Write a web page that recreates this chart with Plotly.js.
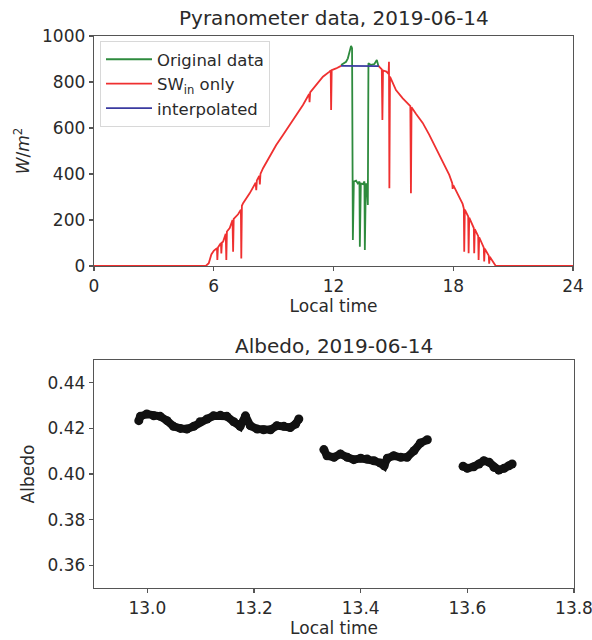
<!DOCTYPE html>
<html>
<head>
<meta charset="utf-8">
<script src="https://cdn.plot.ly/plotly-3.0.1.min.js"></script>
<style>html,body{margin:0;padding:0;background:#fff;overflow:hidden;}#chart{width:620px;height:640px;}</style>
</head>
<body>
<div id="chart"></div>
<script>
// ---- Pyranometer data (local time in hours, W/m^2) ----
const originalHours = [12.38, 12.63, 12.72, 12.8, 12.88, 12.93, 12.97, 13.02, 13.13, 13.22, 13.3, 13.32, 13.37, 13.47, 13.55, 13.57, 13.62, 13.68, 13.72, 13.75, 13.88, 14.05, 14.17, 14.25];
const originalWm2  = [874, 888, 903, 925, 957, 947, 113, 367, 371, 359, 367, 84, 359, 356, 367, 70, 359, 345, 265, 881, 874, 878, 896, 870];

const swinHours = [0, 3, 5.6, 5.75, 5.88, 6.0, 6.13, 6.16, 6.18, 6.21, 6.3, 6.36, 6.38, 6.41, 6.47, 6.6, 6.63, 6.66, 6.8, 6.94, 6.97, 7.0, 7.22, 7.36, 7.38, 7.41, 7.47, 7.6, 7.8, 8.1, 8.13, 8.16, 8.28, 8.31, 8.34, 8.47, 8.8, 9.13, 9.47, 9.8, 10.13, 10.47, 10.78, 10.8, 10.83, 11.13, 11.47, 11.8, 11.86, 11.88, 11.91, 12.13, 12.38, null, 14.25, 14.42, 14.45, 14.48, 14.65, 14.76, 14.78, 14.8, 14.83, 15.13, 15.47, 15.85, 15.88, 15.91, 16.13, 16.47, 16.8, 17.13, 17.47, 17.8, 17.95, 17.97, 18.0, 18.13, 18.47, 18.53, 18.55, 18.58, 18.75, 18.77, 18.8, 19.03, 19.05, 19.08, 19.25, 19.27, 19.3, 19.53, 19.55, 19.58, 19.78, 19.8, 19.83, 20.13, 24];
const swinWm2  = [0, 0, 0, 12, 50, 66, 77, 78, 26, 80, 92, 100, 55, 102, 106, 140, 26, 150, 165, 200, 62, 205, 225, 245, 33, 262, 273, 290, 316, 362, 330, 372, 392, 355, 400, 425, 475, 526, 570, 613, 657, 700, 748, 712, 755, 787, 823, 845, 850, 678, 852, 859, 870, null, 870, 855, 635, 850, 845, 835, 888, 338, 823, 765, 729, 695, 316, 690, 662, 622, 570, 512, 454, 396, 360, 335, 352, 330, 270, 250, 62, 245, 215, 55, 210, 165, 55, 160, 130, 26, 125, 80, 20, 75, 45, 10, 40, 0, 0];

const interpHours = [12.38, 14.27];
const interpWm2  = [870, 869];

// ---- Albedo (local time in hours) ----
const albedoTime = [12.984, 12.987, 12.999, 13.012, 13.024, 13.037, 13.049, 13.062, 13.074, 13.087, 13.099, 13.112, 13.124, 13.137, 13.149, 13.162, 13.174, 13.184, 13.193, 13.206, 13.218, 13.231, 13.243, 13.256, 13.268, 13.278, 13.284,
  null,
  13.331, 13.337, 13.350, 13.362, 13.375, 13.387, 13.400, 13.412, 13.425, 13.437, 13.444, 13.450, 13.462, 13.475, 13.487, 13.500, 13.512, 13.525,
  null,
  13.592, 13.600, 13.612, 13.622, 13.631, 13.641, 13.650, 13.659, 13.669, 13.678, 13.684];
const albedoValue = [0.4234, 0.4253, 0.4263, 0.4255, 0.4253, 0.4234, 0.4209, 0.4200, 0.4197, 0.4209, 0.4229, 0.4241, 0.4255, 0.4258, 0.4253, 0.4229, 0.4209, 0.4255, 0.4212, 0.4197, 0.4194, 0.4194, 0.4212, 0.4209, 0.4204, 0.4219, 0.4241,
  null,
  0.4107, 0.4080, 0.4073, 0.4088, 0.4073, 0.4063, 0.4069, 0.4066, 0.4058, 0.4048, 0.4036, 0.4069, 0.4080, 0.4073, 0.4073, 0.4102, 0.4136, 0.4150,
  null,
  0.4034, 0.4025, 0.4032, 0.4044, 0.4058, 0.4051, 0.4029, 0.4017, 0.4025, 0.4036, 0.4044];

const topTicks = [0, 6, 12, 18, 24];
const topYTicks = [0, 200, 400, 600, 800, 1000];
const bottomTicks = [13.0, 13.2, 13.4, 13.6, 13.8];
const bottomYTicks = [0.36, 0.38, 0.40, 0.42, 0.44];

const W = 620, H = 640;
const FONT = 'DejaVu Sans, sans-serif';
const TXT = '#2a2a2a';
const AX = '#555555';
const FS = 17;

const traces = [
  {x: originalHours, y: originalWm2, type: 'scatter', mode: 'lines', name: 'Original data',
   line: {color: '#2e8b3e', width: 1.8}, xaxis: 'x', yaxis: 'y'},
  {x: swinHours, y: swinWm2, type: 'scatter', mode: 'lines', name: 'SW<sub>in</sub> only',
   line: {color: '#ef3030', width: 1.8}, connectgaps: false, xaxis: 'x', yaxis: 'y'},
  {x: interpHours, y: interpWm2, type: 'scatter', mode: 'lines', name: 'interpolated',
   line: {color: '#3a3aa0', width: 1.8}, xaxis: 'x', yaxis: 'y'},
  {x: albedoTime, y: albedoValue, type: 'scatter', mode: 'lines+markers', showlegend: false,
   line: {color: '#111', width: 8}, marker: {color: '#111', size: 9}, connectgaps: false,
   xaxis: 'x2', yaxis: 'y2'}
];

const axisCommon = {
  showline: true, mirror: true, linecolor: AX, linewidth: 1.3,
  ticks: 'outside', ticklen: 4, tickwidth: 1.2, tickcolor: AX,
  showgrid: false, zeroline: false, automargin: false,
  tickfont: {family: FONT, size: FS, color: TXT}
};

const layout = {
  width: W, height: H,
  margin: {l: 0, r: 0, t: 0, b: 0},
  paper_bgcolor: '#fff', plot_bgcolor: '#fff',
  font: {family: FONT, color: TXT},
  showlegend: true,
  legend: {x: 100/W, y: 1 - 41/H, xanchor: 'left', yanchor: 'top',
    bgcolor: 'rgba(255,255,255,0.85)', bordercolor: '#d8d8d8', borderwidth: 1,
    itemwidth: 46,
    font: {family: FONT, size: 16.5, color: TXT}, tracegroupgap: 0},
  xaxis: Object.assign({}, axisCommon, {domain: [94/W, 573/W], anchor: 'y', range: [0, 24],
    tickvals: topTicks, ticktext: topTicks.map(String),
    title: {text: 'Local time', font: {family: FONT, size: FS, color: TXT}, standoff: 4}}),
  yaxis: Object.assign({}, axisCommon, {domain: [1 - 266/H, 1 - 36/H], anchor: 'x', range: [0, 1000],
    tickvals: topYTicks, ticktext: topYTicks.map(String),
    title: {text: '<i>W</i>/<i>m</i><sup>2</sup>', font: {family: FONT, size: FS, color: TXT}, standoff: 8}}),
  xaxis2: Object.assign({}, axisCommon, {domain: [94/W, 574/W], anchor: 'y2', range: [12.9, 13.8],
    tickvals: bottomTicks, ticktext: bottomTicks.map(v => v.toFixed(1)),
    title: {text: 'Local time', font: {family: FONT, size: FS, color: TXT}, standoff: 4}}),
  yaxis2: Object.assign({}, axisCommon, {domain: [1 - 588/H, 1 - 360/H], anchor: 'x2', range: [0.35, 0.45],
    tickvals: bottomYTicks, ticktext: bottomYTicks.map(v => v.toFixed(2)),
    title: {text: 'Albedo', font: {family: FONT, size: FS, color: TXT}, standoff: 8}}),
  annotations: [
    {text: 'Pyranometer data, 2019-06-14', xref: 'paper', yref: 'paper', x: 334/W, y: 1 - 18/H,
     xanchor: 'center', yanchor: 'middle', showarrow: false, font: {family: FONT, size: 20, color: TXT}},
    {text: 'Albedo, 2019-06-14', xref: 'paper', yref: 'paper', x: 334/W, y: 1 - 346/H,
     xanchor: 'center', yanchor: 'middle', showarrow: false, font: {family: FONT, size: 20, color: TXT}}
  ]
};

Plotly.newPlot('chart', traces, layout, {staticPlot: true, displayModeBar: false});
</script>
</body>
</html>
